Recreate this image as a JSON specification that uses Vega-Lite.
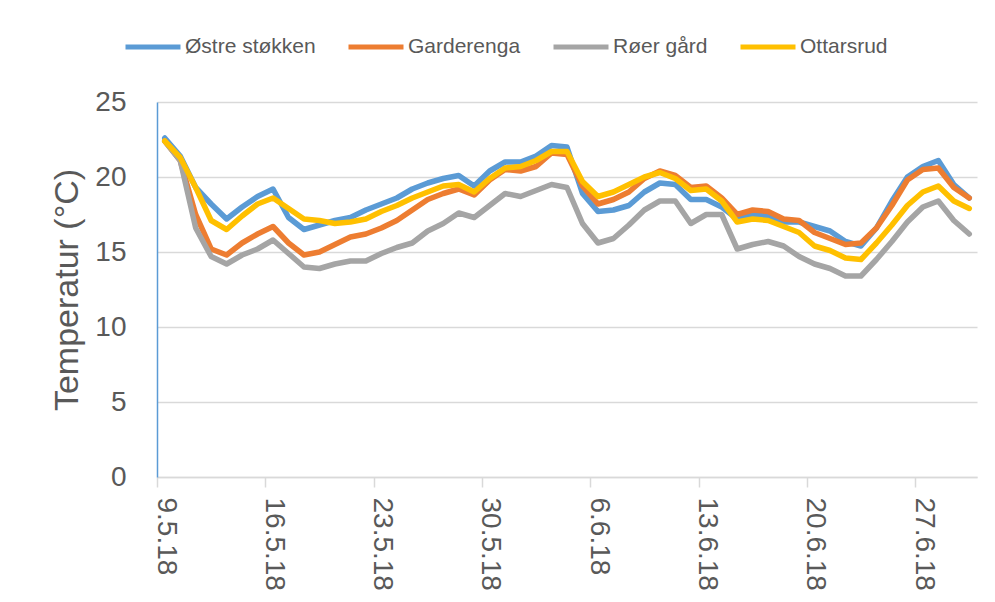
{
"$schema": "https://vega.github.io/schema/vega-lite/v6.json",
"width": 820, "height": 375,
"autosize": {"type": "none"},
"padding": {"left": 157, "top": 102, "right": 18, "bottom": 125},
"background": "white",
"config": {"view": {"stroke": null}, "font": "Liberation Sans"},
"datasets": {"temp": [
{"date":"2018-05-09T12:00Z","s":"Østre støkken","t":22.6},{"date":"2018-05-10T12:00Z","s":"Østre støkken","t":21.4},{"date":"2018-05-11T12:00Z","s":"Østre støkken","t":19.3},{"date":"2018-05-12T12:00Z","s":"Østre støkken","t":18.2},{"date":"2018-05-13T12:00Z","s":"Østre støkken","t":17.2},{"date":"2018-05-14T12:00Z","s":"Østre støkken","t":18.0},{"date":"2018-05-15T12:00Z","s":"Østre støkken","t":18.7},{"date":"2018-05-16T12:00Z","s":"Østre støkken","t":19.2},{"date":"2018-05-17T12:00Z","s":"Østre støkken","t":17.3},{"date":"2018-05-18T12:00Z","s":"Østre støkken","t":16.5},{"date":"2018-05-19T12:00Z","s":"Østre støkken","t":16.8},{"date":"2018-05-20T12:00Z","s":"Østre støkken","t":17.1},{"date":"2018-05-21T12:00Z","s":"Østre støkken","t":17.3},{"date":"2018-05-22T12:00Z","s":"Østre støkken","t":17.8},{"date":"2018-05-23T12:00Z","s":"Østre støkken","t":18.2},{"date":"2018-05-24T12:00Z","s":"Østre støkken","t":18.6},{"date":"2018-05-25T12:00Z","s":"Østre støkken","t":19.2},{"date":"2018-05-26T12:00Z","s":"Østre støkken","t":19.6},{"date":"2018-05-27T12:00Z","s":"Østre støkken","t":19.9},{"date":"2018-05-28T12:00Z","s":"Østre støkken","t":20.1},{"date":"2018-05-29T12:00Z","s":"Østre støkken","t":19.4},{"date":"2018-05-30T12:00Z","s":"Østre støkken","t":20.4},{"date":"2018-05-31T12:00Z","s":"Østre støkken","t":21.0},{"date":"2018-06-01T12:00Z","s":"Østre støkken","t":21.0},{"date":"2018-06-02T12:00Z","s":"Østre støkken","t":21.4},{"date":"2018-06-03T12:00Z","s":"Østre støkken","t":22.1},{"date":"2018-06-04T12:00Z","s":"Østre støkken","t":22.0},{"date":"2018-06-05T12:00Z","s":"Østre støkken","t":18.9},{"date":"2018-06-06T12:00Z","s":"Østre støkken","t":17.7},{"date":"2018-06-07T12:00Z","s":"Østre støkken","t":17.8},{"date":"2018-06-08T12:00Z","s":"Østre støkken","t":18.1},{"date":"2018-06-09T12:00Z","s":"Østre støkken","t":19.0},{"date":"2018-06-10T12:00Z","s":"Østre støkken","t":19.6},{"date":"2018-06-11T12:00Z","s":"Østre støkken","t":19.5},{"date":"2018-06-12T12:00Z","s":"Østre støkken","t":18.5},{"date":"2018-06-13T12:00Z","s":"Østre støkken","t":18.5},{"date":"2018-06-14T12:00Z","s":"Østre støkken","t":18.0},{"date":"2018-06-15T12:00Z","s":"Østre støkken","t":17.2},{"date":"2018-06-16T12:00Z","s":"Østre støkken","t":17.5},{"date":"2018-06-17T12:00Z","s":"Østre støkken","t":17.4},{"date":"2018-06-18T12:00Z","s":"Østre støkken","t":17.0},{"date":"2018-06-19T12:00Z","s":"Østre støkken","t":17.0},{"date":"2018-06-20T12:00Z","s":"Østre støkken","t":16.7},{"date":"2018-06-21T12:00Z","s":"Østre støkken","t":16.4},{"date":"2018-06-22T12:00Z","s":"Østre støkken","t":15.7},{"date":"2018-06-23T12:00Z","s":"Østre støkken","t":15.4},{"date":"2018-06-24T12:00Z","s":"Østre støkken","t":16.6},{"date":"2018-06-25T12:00Z","s":"Østre støkken","t":18.4},{"date":"2018-06-26T12:00Z","s":"Østre støkken","t":20.0},{"date":"2018-06-27T12:00Z","s":"Østre støkken","t":20.7},{"date":"2018-06-28T12:00Z","s":"Østre støkken","t":21.1},{"date":"2018-06-29T12:00Z","s":"Østre støkken","t":19.5},{"date":"2018-06-30T12:00Z","s":"Østre støkken","t":18.6},
{"date":"2018-05-09T12:00Z","s":"Garderenga","t":22.4},{"date":"2018-05-10T12:00Z","s":"Garderenga","t":21.1},{"date":"2018-05-11T12:00Z","s":"Garderenga","t":17.5},{"date":"2018-05-12T12:00Z","s":"Garderenga","t":15.2},{"date":"2018-05-13T12:00Z","s":"Garderenga","t":14.8},{"date":"2018-05-14T12:00Z","s":"Garderenga","t":15.6},{"date":"2018-05-15T12:00Z","s":"Garderenga","t":16.2},{"date":"2018-05-16T12:00Z","s":"Garderenga","t":16.7},{"date":"2018-05-17T12:00Z","s":"Garderenga","t":15.6},{"date":"2018-05-18T12:00Z","s":"Garderenga","t":14.8},{"date":"2018-05-19T12:00Z","s":"Garderenga","t":15.0},{"date":"2018-05-20T12:00Z","s":"Garderenga","t":15.5},{"date":"2018-05-21T12:00Z","s":"Garderenga","t":16.0},{"date":"2018-05-22T12:00Z","s":"Garderenga","t":16.2},{"date":"2018-05-23T12:00Z","s":"Garderenga","t":16.6},{"date":"2018-05-24T12:00Z","s":"Garderenga","t":17.1},{"date":"2018-05-25T12:00Z","s":"Garderenga","t":17.8},{"date":"2018-05-26T12:00Z","s":"Garderenga","t":18.5},{"date":"2018-05-27T12:00Z","s":"Garderenga","t":18.9},{"date":"2018-05-28T12:00Z","s":"Garderenga","t":19.2},{"date":"2018-05-29T12:00Z","s":"Garderenga","t":18.8},{"date":"2018-05-30T12:00Z","s":"Garderenga","t":19.8},{"date":"2018-05-31T12:00Z","s":"Garderenga","t":20.5},{"date":"2018-06-01T12:00Z","s":"Garderenga","t":20.4},{"date":"2018-06-02T12:00Z","s":"Garderenga","t":20.7},{"date":"2018-06-03T12:00Z","s":"Garderenga","t":21.6},{"date":"2018-06-04T12:00Z","s":"Garderenga","t":21.5},{"date":"2018-06-05T12:00Z","s":"Garderenga","t":19.4},{"date":"2018-06-06T12:00Z","s":"Garderenga","t":18.2},{"date":"2018-06-07T12:00Z","s":"Garderenga","t":18.5},{"date":"2018-06-08T12:00Z","s":"Garderenga","t":19.0},{"date":"2018-06-09T12:00Z","s":"Garderenga","t":19.9},{"date":"2018-06-10T12:00Z","s":"Garderenga","t":20.4},{"date":"2018-06-11T12:00Z","s":"Garderenga","t":20.1},{"date":"2018-06-12T12:00Z","s":"Garderenga","t":19.3},{"date":"2018-06-13T12:00Z","s":"Garderenga","t":19.4},{"date":"2018-06-14T12:00Z","s":"Garderenga","t":18.6},{"date":"2018-06-15T12:00Z","s":"Garderenga","t":17.5},{"date":"2018-06-16T12:00Z","s":"Garderenga","t":17.8},{"date":"2018-06-17T12:00Z","s":"Garderenga","t":17.7},{"date":"2018-06-18T12:00Z","s":"Garderenga","t":17.2},{"date":"2018-06-19T12:00Z","s":"Garderenga","t":17.1},{"date":"2018-06-20T12:00Z","s":"Garderenga","t":16.3},{"date":"2018-06-21T12:00Z","s":"Garderenga","t":15.9},{"date":"2018-06-22T12:00Z","s":"Garderenga","t":15.5},{"date":"2018-06-23T12:00Z","s":"Garderenga","t":15.6},{"date":"2018-06-24T12:00Z","s":"Garderenga","t":16.6},{"date":"2018-06-25T12:00Z","s":"Garderenga","t":18.1},{"date":"2018-06-26T12:00Z","s":"Garderenga","t":19.8},{"date":"2018-06-27T12:00Z","s":"Garderenga","t":20.5},{"date":"2018-06-28T12:00Z","s":"Garderenga","t":20.6},{"date":"2018-06-29T12:00Z","s":"Garderenga","t":19.3},{"date":"2018-06-30T12:00Z","s":"Garderenga","t":18.6},
{"date":"2018-05-09T12:00Z","s":"Røer gård","t":22.4},{"date":"2018-05-10T12:00Z","s":"Røer gård","t":21.1},{"date":"2018-05-11T12:00Z","s":"Røer gård","t":16.6},{"date":"2018-05-12T12:00Z","s":"Røer gård","t":14.7},{"date":"2018-05-13T12:00Z","s":"Røer gård","t":14.2},{"date":"2018-05-14T12:00Z","s":"Røer gård","t":14.8},{"date":"2018-05-15T12:00Z","s":"Røer gård","t":15.2},{"date":"2018-05-16T12:00Z","s":"Røer gård","t":15.8},{"date":"2018-05-17T12:00Z","s":"Røer gård","t":14.9},{"date":"2018-05-18T12:00Z","s":"Røer gård","t":14.0},{"date":"2018-05-19T12:00Z","s":"Røer gård","t":13.9},{"date":"2018-05-20T12:00Z","s":"Røer gård","t":14.2},{"date":"2018-05-21T12:00Z","s":"Røer gård","t":14.4},{"date":"2018-05-22T12:00Z","s":"Røer gård","t":14.4},{"date":"2018-05-23T12:00Z","s":"Røer gård","t":14.9},{"date":"2018-05-24T12:00Z","s":"Røer gård","t":15.3},{"date":"2018-05-25T12:00Z","s":"Røer gård","t":15.6},{"date":"2018-05-26T12:00Z","s":"Røer gård","t":16.4},{"date":"2018-05-27T12:00Z","s":"Røer gård","t":16.9},{"date":"2018-05-28T12:00Z","s":"Røer gård","t":17.6},{"date":"2018-05-29T12:00Z","s":"Røer gård","t":17.3},{"date":"2018-05-30T12:00Z","s":"Røer gård","t":18.1},{"date":"2018-05-31T12:00Z","s":"Røer gård","t":18.9},{"date":"2018-06-01T12:00Z","s":"Røer gård","t":18.7},{"date":"2018-06-02T12:00Z","s":"Røer gård","t":19.1},{"date":"2018-06-03T12:00Z","s":"Røer gård","t":19.5},{"date":"2018-06-04T12:00Z","s":"Røer gård","t":19.3},{"date":"2018-06-05T12:00Z","s":"Røer gård","t":16.9},{"date":"2018-06-06T12:00Z","s":"Røer gård","t":15.6},{"date":"2018-06-07T12:00Z","s":"Røer gård","t":15.9},{"date":"2018-06-08T12:00Z","s":"Røer gård","t":16.8},{"date":"2018-06-09T12:00Z","s":"Røer gård","t":17.8},{"date":"2018-06-10T12:00Z","s":"Røer gård","t":18.4},{"date":"2018-06-11T12:00Z","s":"Røer gård","t":18.4},{"date":"2018-06-12T12:00Z","s":"Røer gård","t":16.9},{"date":"2018-06-13T12:00Z","s":"Røer gård","t":17.5},{"date":"2018-06-14T12:00Z","s":"Røer gård","t":17.5},{"date":"2018-06-15T12:00Z","s":"Røer gård","t":15.2},{"date":"2018-06-16T12:00Z","s":"Røer gård","t":15.5},{"date":"2018-06-17T12:00Z","s":"Røer gård","t":15.7},{"date":"2018-06-18T12:00Z","s":"Røer gård","t":15.4},{"date":"2018-06-19T12:00Z","s":"Røer gård","t":14.7},{"date":"2018-06-20T12:00Z","s":"Røer gård","t":14.2},{"date":"2018-06-21T12:00Z","s":"Røer gård","t":13.9},{"date":"2018-06-22T12:00Z","s":"Røer gård","t":13.4},{"date":"2018-06-23T12:00Z","s":"Røer gård","t":13.4},{"date":"2018-06-24T12:00Z","s":"Røer gård","t":14.5},{"date":"2018-06-25T12:00Z","s":"Røer gård","t":15.7},{"date":"2018-06-26T12:00Z","s":"Røer gård","t":17.0},{"date":"2018-06-27T12:00Z","s":"Røer gård","t":18.0},{"date":"2018-06-28T12:00Z","s":"Røer gård","t":18.4},{"date":"2018-06-29T12:00Z","s":"Røer gård","t":17.1},{"date":"2018-06-30T12:00Z","s":"Røer gård","t":16.2},
{"date":"2018-05-09T12:00Z","s":"Ottarsrud","t":22.4},{"date":"2018-05-10T12:00Z","s":"Ottarsrud","t":21.3},{"date":"2018-05-11T12:00Z","s":"Ottarsrud","t":19.3},{"date":"2018-05-12T12:00Z","s":"Ottarsrud","t":17.1},{"date":"2018-05-13T12:00Z","s":"Ottarsrud","t":16.5},{"date":"2018-05-14T12:00Z","s":"Ottarsrud","t":17.4},{"date":"2018-05-15T12:00Z","s":"Ottarsrud","t":18.2},{"date":"2018-05-16T12:00Z","s":"Ottarsrud","t":18.6},{"date":"2018-05-17T12:00Z","s":"Ottarsrud","t":17.9},{"date":"2018-05-18T12:00Z","s":"Ottarsrud","t":17.2},{"date":"2018-05-19T12:00Z","s":"Ottarsrud","t":17.1},{"date":"2018-05-20T12:00Z","s":"Ottarsrud","t":16.9},{"date":"2018-05-21T12:00Z","s":"Ottarsrud","t":17.0},{"date":"2018-05-22T12:00Z","s":"Ottarsrud","t":17.2},{"date":"2018-05-23T12:00Z","s":"Ottarsrud","t":17.7},{"date":"2018-05-24T12:00Z","s":"Ottarsrud","t":18.1},{"date":"2018-05-25T12:00Z","s":"Ottarsrud","t":18.6},{"date":"2018-05-26T12:00Z","s":"Ottarsrud","t":19.0},{"date":"2018-05-27T12:00Z","s":"Ottarsrud","t":19.4},{"date":"2018-05-28T12:00Z","s":"Ottarsrud","t":19.5},{"date":"2018-05-29T12:00Z","s":"Ottarsrud","t":19.0},{"date":"2018-05-30T12:00Z","s":"Ottarsrud","t":19.9},{"date":"2018-05-31T12:00Z","s":"Ottarsrud","t":20.6},{"date":"2018-06-01T12:00Z","s":"Ottarsrud","t":20.7},{"date":"2018-06-02T12:00Z","s":"Ottarsrud","t":21.1},{"date":"2018-06-03T12:00Z","s":"Ottarsrud","t":21.7},{"date":"2018-06-04T12:00Z","s":"Ottarsrud","t":21.7},{"date":"2018-06-05T12:00Z","s":"Ottarsrud","t":19.7},{"date":"2018-06-06T12:00Z","s":"Ottarsrud","t":18.7},{"date":"2018-06-07T12:00Z","s":"Ottarsrud","t":19.0},{"date":"2018-06-08T12:00Z","s":"Ottarsrud","t":19.5},{"date":"2018-06-09T12:00Z","s":"Ottarsrud","t":20.0},{"date":"2018-06-10T12:00Z","s":"Ottarsrud","t":20.3},{"date":"2018-06-11T12:00Z","s":"Ottarsrud","t":19.9},{"date":"2018-06-12T12:00Z","s":"Ottarsrud","t":19.1},{"date":"2018-06-13T12:00Z","s":"Ottarsrud","t":19.2},{"date":"2018-06-14T12:00Z","s":"Ottarsrud","t":18.4},{"date":"2018-06-15T12:00Z","s":"Ottarsrud","t":17.0},{"date":"2018-06-16T12:00Z","s":"Ottarsrud","t":17.2},{"date":"2018-06-17T12:00Z","s":"Ottarsrud","t":17.1},{"date":"2018-06-18T12:00Z","s":"Ottarsrud","t":16.7},{"date":"2018-06-19T12:00Z","s":"Ottarsrud","t":16.3},{"date":"2018-06-20T12:00Z","s":"Ottarsrud","t":15.4},{"date":"2018-06-21T12:00Z","s":"Ottarsrud","t":15.1},{"date":"2018-06-22T12:00Z","s":"Ottarsrud","t":14.6},{"date":"2018-06-23T12:00Z","s":"Ottarsrud","t":14.5},{"date":"2018-06-24T12:00Z","s":"Ottarsrud","t":15.6},{"date":"2018-06-25T12:00Z","s":"Ottarsrud","t":16.8},{"date":"2018-06-26T12:00Z","s":"Ottarsrud","t":18.1},{"date":"2018-06-27T12:00Z","s":"Ottarsrud","t":19.0},{"date":"2018-06-28T12:00Z","s":"Ottarsrud","t":19.4},{"date":"2018-06-29T12:00Z","s":"Ottarsrud","t":18.4},{"date":"2018-06-30T12:00Z","s":"Ottarsrud","t":17.9}
]},
"data": {"name": "temp"},
"mark": {"type": "line", "strokeWidth": 5.5, "strokeCap": "round", "strokeJoin": "round"},
"encoding": {
  "x": {"field": "date", "type": "temporal",
    "scale": {"type": "utc", "nice": false, "domain": [{"year": 2018, "month": 5, "date": 9, "utc": true}, {"year": 2018, "month": 7, "date": 1, "utc": true}]},
    "axis": {"title": null, "grid": false, "format": "%-d.%-m.%y",
      "values": [{"year": 2018, "month": 5, "date": 9, "utc": true}, {"year": 2018, "month": 5, "date": 16, "utc": true}, {"year": 2018, "month": 5, "date": 23, "utc": true}, {"year": 2018, "month": 5, "date": 30, "utc": true}, {"year": 2018, "month": 6, "date": 6, "utc": true}, {"year": 2018, "month": 6, "date": 13, "utc": true}, {"year": 2018, "month": 6, "date": 20, "utc": true}, {"year": 2018, "month": 6, "date": 27, "utc": true}],
      "labelAngle": 90, "labelAlign": "left", "labelBaseline": "alphabetic", "labelDy": 4,
      "labelFont": "Liberation Sans", "labelFontSize": 28, "labelColor": "#595959",
      "labelPadding": 10, "labelOverlap": false, "labelFlush": false, "labelBound": false,
      "tickSize": 10, "tickColor": "#d9d9d9", "tickWidth": 1.5,
      "domainColor": "#d9d9d9", "domainWidth": 1.5}},
  "y": {"field": "t", "type": "quantitative",
    "scale": {"domain": [0, 25], "nice": false},
    "axis": {"title": "Temperatur (°C)", "values": [0, 5, 10, 15, 20, 25],
      "labelFont": "Liberation Sans", "labelFontSize": 28, "labelColor": "#595959", "labelPadding": 31,
      "ticks": false, "domainColor": "#5B9BD5", "domainWidth": 1.5,
      "gridColor": "#d9d9d9", "gridWidth": 1.5,
      "titleFont": "Liberation Sans", "titleFontSize": 34, "titleColor": "#595959", "titleFontWeight": "normal",
      "titleAngle": -90, "titleAlign": "center", "titleBaseline": "middle", "titleX": -90, "titleY": 187.5}},
  "color": {"field": "s", "type": "nominal",
    "scale": {"domain": ["Østre støkken", "Garderenga", "Røer gård", "Ottarsrud"], "range": ["#5B9BD5", "#ED7D31", "#A5A5A5", "#FFC000"]},
    "legend": {"title": null, "orient": "none", "direction": "horizontal", "legendX": -34, "legendY": -85,
      "symbolType": "stroke", "symbolSize": 3025, "symbolStrokeWidth": 5,
      "labelFont": "Liberation Sans", "labelFontSize": 21, "labelColor": "#595959",
      "labelOffset": 2, "columnPadding": 22, "padding": 0, "labelLimit": 300}}
}
}
